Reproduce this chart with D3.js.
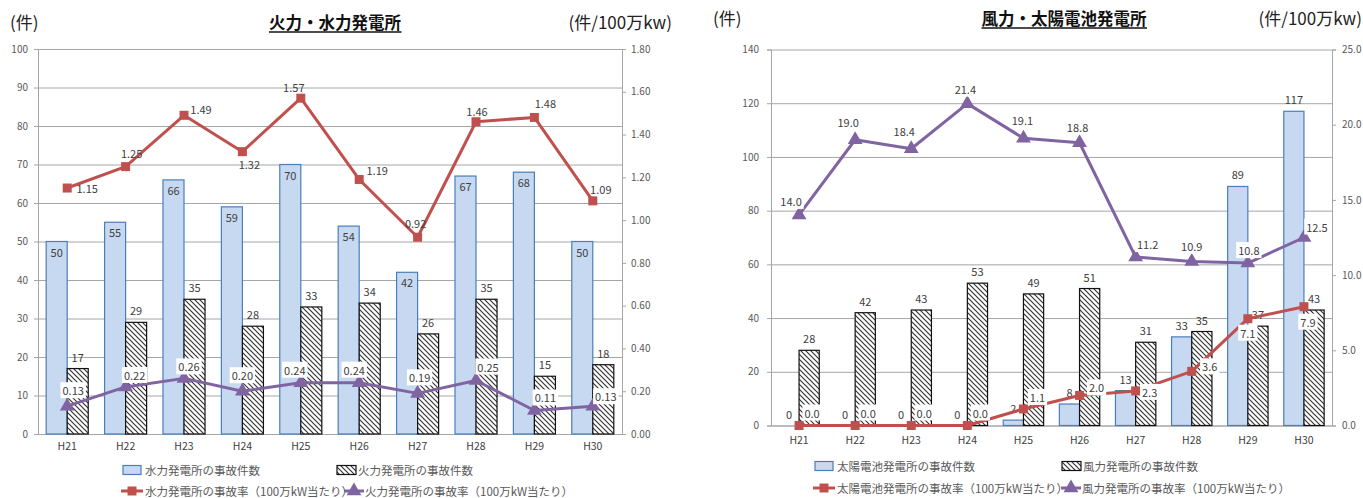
<!DOCTYPE html>
<html>
<head>
<meta charset="utf-8">
<script src="https://cdn.jsdelivr.net/npm/d3@7"></script>
<style>
  body { margin: 0; background: #fff; }
  svg { display: block; }
  text { font-family: "Noto Sans CJK JP", "Noto Sans", sans-serif; }
</style>
</head>
<body>
<svg id="chart" width="1363" height="498"></svg>
<script>
// Fiscal years (Heisei)
const years = ["H21", "H22", "H23", "H24", "H25", "H26", "H27", "H28", "H29", "H30"];

// Thermal / hydro plants
const hydroCount   = [50, 55, 66, 59, 70, 54, 42, 67, 68, 50];
const thermalCount = [17, 29, 35, 28, 33, 34, 26, 35, 15, 18];
const hydroRate    = [1.15, 1.25, 1.49, 1.32, 1.57, 1.19, 0.92, 1.46, 1.48, 1.09];
const thermalRate  = [0.13, 0.22, 0.26, 0.20, 0.24, 0.24, 0.19, 0.25, 0.11, 0.13];

// Wind / solar plants
const solarCount = [0, 0, 0, 0, 2, 8, 13, 33, 89, 117];
const windCount  = [28, 42, 43, 53, 49, 51, 31, 35, 37, 43];
const solarRate  = [0.0, 0.0, 0.0, 0.0, 1.1, 2.0, 2.3, 3.6, 7.1, 7.9];
const windRate   = [14.0, 19.0, 18.4, 21.4, 19.1, 18.8, 11.2, 10.9, 10.8, 12.5];

// Axis tick values
const countTicksA = [0, 10, 20, 30, 40, 50, 60, 70, 80, 90, 100];
const rateTicksA  = [0, 0.2, 0.4, 0.6, 0.8, 1.0, 1.2, 1.4, 1.6, 1.8];
const countTicksB = [0, 20, 40, 60, 80, 100, 120, 140];
const rateTicksB  = [0, 5, 10, 15, 20, 25];

// Data-label offsets (dx, dy from the marker)
const hydroRateOffsets   = [[20,0],[6,-14],[17,-6],[7,12],[-7,-11],[18,-9],[-2,-14],[1,-11],[11,-14],[8,-12]];
const thermalRateOffsets = [[6,-16],[9,-12],[5,-12],[0,-16],[-6,-13],[-5,-13],[2,-16],[12,-14],[11,-13],[13,-10]];
const windRateOffsets    = [[-8,-14],[-7,-18],[-7,-18],[-2,-15],[-1,-18],[-2,-16],[12,-13],[0,-16],[1,-13],[13,-11]];
const solarRateOffsets   = [[13,-13],[13,-13],[13,-13],[13,-13],[14,-12],[17,-8],[14,1],[18,-5],[0,14],[4,15]];

const BLUE_FILL = "#c6d9f1", BLUE_STROKE = "#4a7ebb";
const RED = "#c0504d", PURPLE = "#8064a2";
const GRID = "#a6a6a6", AXIS_TXT = "#595959", LBL_TXT = "#404040";
const NUM_FONT = "Lato, 'Noto Sans', sans-serif";

const svg = d3.select("#chart");
const defs = svg.append("defs");
const hatch = defs.append("pattern")
  .attr("id", "hatch").attr("patternUnits", "userSpaceOnUse")
  .attr("width", 5).attr("height", 5);
hatch.append("rect").attr("width", 5).attr("height", 5).attr("fill", "#fff");
hatch.append("path")
  .attr("d", "M-1,-1 L6,6 M-1,4 L1,6 M4,-1 L6,1")
  .attr("stroke", "#333").attr("stroke-width", 1.15);

const squareSym = d3.symbol().type(d3.symbolSquare).size(81);
const triSym = d3.symbol().type(d3.symbolTriangle).size(95);

function addLabel(g, x, y, str, box) {
  const t = g.append("text")
    .attr("x", x).attr("y", y)
    .attr("text-anchor", "middle").attr("dominant-baseline", "central")
    .attr("font-family", NUM_FONT).attr("font-size", 11)
    .attr("fill", LBL_TXT).text(str);
  if (box) {
    const b = t.node().getBBox();
    g.insert("rect", () => t.node())
      .attr("x", b.x - 2).attr("y", b.y)
      .attr("width", b.width + 4).attr("height", b.height)
      .attr("fill", "#fff");
  }
}

function drawPanel(p) {
  const g = svg.append("g");
  const x = d3.scaleBand().domain(years).range([p.left, p.right]);
  const yC = d3.scaleLinear().domain([0, p.countMax]).range([p.bottom, p.top]);
  const yR = d3.scaleLinear().domain([0, p.rateMax]).range([p.bottom, p.top]);
  const cx = d => x(d) + x.bandwidth() / 2;
  const bw = x.bandwidth() * 0.36;

  // horizontal gridlines
  g.append("g")
    .attr("transform", `translate(${p.left},0)`)
    .call(d3.axisLeft(yC).tickValues(p.countTicks).tickSize(-(p.right - p.left)).tickFormat(""))
    .call(s => s.select(".domain").remove())
    .call(s => s.selectAll("line").attr("stroke", GRID));

  // left axis
  g.append("g")
    .attr("transform", `translate(${p.left},0)`)
    .call(d3.axisLeft(yC).tickValues(p.countTicks).tickSize(4).tickPadding(p.padL))
    .call(s => s.selectAll("line, path").attr("stroke", GRID))
    .call(s => s.selectAll("text").attr("font-family", NUM_FONT).attr("font-size", 10).attr("fill", AXIS_TXT));

  // right axis
  g.append("g")
    .attr("transform", `translate(${p.right},0)`)
    .call(d3.axisRight(yR).tickValues(p.rateTicks).tickSize(4).tickPadding(p.padR).tickFormat(p.rateFmt))
    .call(s => s.selectAll("line, path").attr("stroke", GRID))
    .call(s => s.selectAll("text").attr("font-family", NUM_FONT).attr("font-size", 10).attr("fill", AXIS_TXT));

  // category axis
  g.append("g")
    .attr("transform", `translate(0,${p.bottom})`)
    .call(d3.axisBottom(x).tickSize(0).tickPadding(p.padB))
    .call(s => s.select(".domain").attr("stroke", GRID))
    .call(s => s.selectAll("text").attr("font-family", NUM_FONT).attr("font-size", 10.5).attr("fill", LBL_TXT));

  // bars
  g.append("g").selectAll("rect").data(years).join("rect")
    .attr("x", d => cx(d) - bw).attr("width", bw)
    .attr("y", (d, i) => yC(p.barA[i]))
    .attr("height", (d, i) => p.bottom - yC(p.barA[i]))
    .attr("fill", BLUE_FILL).attr("stroke", BLUE_STROKE).attr("stroke-width", 1.2);
  g.append("g").selectAll("rect").data(years).join("rect")
    .attr("x", d => cx(d)).attr("width", bw)
    .attr("y", (d, i) => yC(p.barB[i]))
    .attr("height", (d, i) => p.bottom - yC(p.barB[i]))
    .attr("fill", "url(#hatch)").attr("stroke", "#111").attr("stroke-width", 1.2);

  // bar labels
  const bl = g.append("g");
  years.forEach((d, i) => {
    const yA = yC(p.barA[i]);
    addLabel(bl, cx(d) - bw / 2, p.barAInside ? yA + 10 : yA - 12, String(p.barA[i]), false);
    addLabel(bl, cx(d) + bw / 2, yC(p.barB[i]) - 12, String(p.barB[i]), false);
  });

  // rate lines
  const line = d3.line().x((v, i) => cx(years[i])).y(v => yR(v));
  const series = [
    { vals: p.lineA, color: RED, sym: squareSym, offs: p.offA, box: p.boxA },
    { vals: p.lineB, color: PURPLE, sym: triSym, offs: p.offB, box: p.boxB }
  ];
  series.forEach(s => {
    g.append("path").datum(s.vals).attr("d", line)
      .attr("fill", "none").attr("stroke", s.color).attr("stroke-width", 3)
      .attr("stroke-linejoin", "round");
    g.append("g").selectAll("path").data(s.vals).join("path")
      .attr("d", s.sym)
      .attr("transform", (v, i) => `translate(${cx(years[i])},${yR(v)})`)
      .attr("fill", s.color);
  });
  series.forEach(s => {
    const lg = g.append("g");
    s.vals.forEach((v, i) => {
      addLabel(lg, cx(years[i]) + s.offs[i][0], yR(v) + s.offs[i][1], p.lineFmt(v), s.box);
    });
  });

  // headers
  const h = g.append("g");
  h.append("text").attr("x", p.unitL).attr("y", p.headY)
    .attr("font-size", 17).attr("fill", "#222").text("(件)");
  const title = h.append("text").attr("x", p.titleX).attr("y", p.headY)
    .attr("text-anchor", "middle").attr("font-size", 16.5).attr("font-weight", "bold")
    .attr("fill", "#111").text(p.title);
  const tb = title.node().getBBox();
  h.append("line").attr("x1", tb.x).attr("x2", tb.x + tb.width)
    .attr("y1", p.headY + 3).attr("y2", p.headY + 3)
    .attr("stroke", "#111").attr("stroke-width", 1.3);
  h.append("text").attr("x", p.unitR).attr("y", p.headY)
    .attr("text-anchor", "end").attr("font-size", 17).attr("fill", "#222").text("(件/100万kw)");

  // legend
  const L = g.append("g").attr("font-size", 11.5).attr("fill", AXIS_TXT);
  const lr = p.legend;
  L.append("rect").attr("x", lr.c1).attr("y", lr.r1 - 4.5).attr("width", 18).attr("height", 9)
    .attr("fill", BLUE_FILL).attr("stroke", BLUE_STROKE).attr("stroke-width", 1.2);
  L.append("text").attr("x", lr.c1 + 22).attr("y", lr.r1).attr("dominant-baseline", "central").text(lr.t1);
  L.append("rect").attr("x", lr.c2).attr("y", lr.r1 - 4.5).attr("width", 19).attr("height", 9)
    .attr("fill", "url(#hatch)").attr("stroke", "#111").attr("stroke-width", 1.2);
  L.append("text").attr("x", lr.c2 + 21).attr("y", lr.r1).attr("dominant-baseline", "central").text(lr.t2);
  L.append("line").attr("x1", lr.c1 - 2).attr("x2", lr.c1 + 20).attr("y1", lr.r2).attr("y2", lr.r2)
    .attr("stroke", RED).attr("stroke-width", 3);
  L.append("path").attr("d", squareSym).attr("transform", `translate(${lr.c1 + 9},${lr.r2})`).attr("fill", RED);
  L.append("text").attr("x", lr.c1 + 22).attr("y", lr.r2).attr("dominant-baseline", "central").text(lr.t3);
  L.append("line").attr("x1", lr.c4).attr("x2", lr.c4 + 20).attr("y1", lr.r2).attr("y2", lr.r2)
    .attr("stroke", PURPLE).attr("stroke-width", 3);
  L.append("path").attr("d", triSym).attr("transform", `translate(${lr.c4 + 10},${lr.r2})`).attr("fill", PURPLE);
  L.append("text").attr("x", lr.c4 + 21).attr("y", lr.r2).attr("dominant-baseline", "central").text(lr.t4);
}

drawPanel({
  left: 38, right: 622, top: 49, bottom: 434,
  countMax: 100, countTicks: countTicksA,
  rateMax: 1.8, rateTicks: rateTicksA, rateFmt: d3.format(".2f"),
  padL: 6, padR: 5, padB: 9,
  barA: hydroCount, barB: thermalCount, barAInside: true,
  lineA: hydroRate, lineB: thermalRate, lineFmt: d3.format(".2f"),
  offA: hydroRateOffsets, offB: thermalRateOffsets, boxA: false, boxB: true,
  title: "火力・水力発電所", titleX: 335, unitL: 10, unitR: 672, headY: 29,
  legend: { c1: 123, c2: 337, c4: 344, r1: 470, r2: 491,
    t1: "水力発電所の事故件数", t2: "火力発電所の事故件数",
    t3: "水力発電所の事故率（100万kW当たり）", t4: "火力発電所の事故率（100万kW当たり）" }
});

drawPanel({
  left: 771, right: 1332, top: 49.5, bottom: 425.5,
  countMax: 140, countTicks: countTicksB,
  rateMax: 25, rateTicks: rateTicksB, rateFmt: d3.format(".1f"),
  padL: 8, padR: 6, padB: 11,
  barA: solarCount, barB: windCount, barAInside: false,
  lineA: solarRate, lineB: windRate, lineFmt: d3.format(".1f"),
  offA: solarRateOffsets, offB: windRateOffsets, boxA: true, boxB: true,
  title: "風力・太陽電池発電所", titleX: 1064, unitL: 713, unitR: 1362, headY: 25,
  legend: { c1: 815, c2: 1062, c4: 1061, r1: 466, r2: 488,
    t1: "太陽電池発電所の事故件数", t2: "風力発電所の事故件数",
    t3: "太陽電池発電所の事故率（100万kW当たり）", t4: "風力発電所の事故率（100万kW当たり）" }
});
</script>
</body>
</html>
